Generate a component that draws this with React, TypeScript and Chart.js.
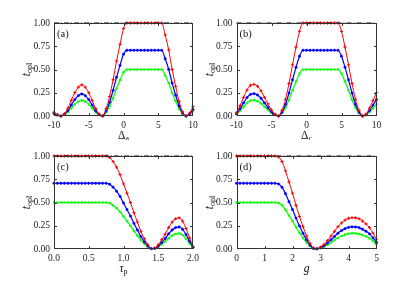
import React, { useEffect, useRef } from "react";
import { Chart, registerables } from "chart.js";
Chart.register(...registerables);

const SERIF = "'Liberation Serif', 'Times New Roman', serif";

// ---------- data ----------
const xA = [-10,-9.5,-9,-8.5,-8,-7.5,-7,-6.5,-6,-5.5,-5,-4.5,-4,-3.5,-3,-2.5,-2,-1.5,-1,-0.5,0,0.5,1,1.5,2,2.5,3,3.5,4,4.5,5,5.5,6,6.5,7,7.5,8,8.5,9,9.5,10];
const redA = [0.04,0.015,0,0.025,0.085,0.17,0.25,0.31,0.335,0.31,0.25,0.165,0.08,0.02,0,0.08,0.21,0.39,0.59,0.77,0.94,1,1,1,1,1,1,1,1,1,1,1,0.87,0.71,0.5,0.32,0.155,0.045,0,0.03,0.1];
const blueA = [0.028,0.011,0,0.018,0.06,0.12,0.177,0.219,0.237,0.219,0.177,0.117,0.057,0.014,0,0.057,0.148,0.276,0.417,0.544,0.665,0.707,0.707,0.707,0.707,0.707,0.707,0.707,0.707,0.707,0.707,0.707,0.615,0.502,0.354,0.226,0.11,0.032,0,0.021,0.071];
const greenA = [0.02,0.008,0,0.013,0.043,0.085,0.125,0.155,0.168,0.155,0.125,0.083,0.04,0.01,0,0.04,0.105,0.195,0.295,0.385,0.47,0.5,0.5,0.5,0.5,0.5,0.5,0.5,0.5,0.5,0.5,0.5,0.435,0.355,0.25,0.16,0.078,0.023,0,0.015,0.05];

const xB = xA;
const redB = [0.035,0.11,0.2,0.28,0.33,0.34,0.32,0.27,0.2,0.13,0.065,0.02,0,0.06,0.18,0.35,0.55,0.74,0.91,1,1,1,1,1,1,1,1,1,1,1,0.91,0.74,0.55,0.35,0.18,0.06,0,0.02,0.085,0.165,0.25];
const blueB = [0.025,0.078,0.141,0.198,0.233,0.24,0.226,0.191,0.141,0.092,0.046,0.014,0,0.042,0.127,0.247,0.389,0.523,0.643,0.707,0.707,0.707,0.707,0.707,0.707,0.707,0.707,0.707,0.707,0.707,0.643,0.523,0.389,0.247,0.127,0.042,0,0.014,0.06,0.117,0.177];
const greenB = [0.018,0.055,0.1,0.14,0.165,0.17,0.16,0.135,0.1,0.065,0.033,0.01,0,0.03,0.09,0.175,0.275,0.37,0.455,0.5,0.5,0.5,0.5,0.5,0.5,0.5,0.5,0.5,0.5,0.5,0.455,0.37,0.275,0.175,0.09,0.03,0,0.01,0.043,0.083,0.125];

const xC = [0,0.05,0.1,0.15,0.2,0.25,0.3,0.35,0.4,0.45,0.5,0.55,0.6,0.65,0.7,0.75,0.8,0.85,0.9,0.95,1,1.05,1.1,1.15,1.2,1.25,1.3,1.35,1.4,1.45,1.5,1.55,1.6,1.65,1.7,1.75,1.8,1.85,1.9,1.95,2];
const redC = [1,1,1,1,1,1,1,1,1,1,1,1,1,1,1,1,0.985,0.94,0.88,0.8,0.7,0.6,0.5,0.39,0.29,0.19,0.11,0.045,0.005,0.01,0.045,0.1,0.16,0.23,0.29,0.325,0.335,0.3,0.22,0.12,0.025];
const blueC = [0.707,0.707,0.707,0.707,0.707,0.707,0.707,0.707,0.707,0.707,0.707,0.707,0.707,0.707,0.707,0.707,0.696,0.665,0.622,0.566,0.495,0.424,0.354,0.276,0.205,0.134,0.078,0.032,0.004,0.007,0.032,0.071,0.113,0.163,0.205,0.23,0.237,0.212,0.156,0.085,0.018];
const greenC = [0.5,0.5,0.5,0.5,0.5,0.5,0.5,0.5,0.5,0.5,0.5,0.5,0.5,0.5,0.5,0.5,0.493,0.47,0.44,0.4,0.35,0.3,0.25,0.195,0.145,0.095,0.055,0.023,0.003,0.005,0.023,0.05,0.08,0.115,0.145,0.163,0.168,0.15,0.11,0.06,0.013];

const xD = [0,0.125,0.25,0.375,0.5,0.625,0.75,0.875,1,1.125,1.25,1.375,1.5,1.625,1.75,1.875,2,2.125,2.25,2.375,2.5,2.625,2.75,2.875,3,3.125,3.25,3.375,3.5,3.625,3.75,3.875,4,4.125,4.25,4.375,4.5,4.625,4.75,4.875,5];
const redD = [1,1,1,1,1,1,1,1,1,1,1,1,0.99,0.94,0.84,0.72,0.6,0.47,0.35,0.24,0.14,0.06,0.01,0.003,0.02,0.05,0.09,0.14,0.19,0.24,0.28,0.31,0.33,0.336,0.335,0.325,0.3,0.27,0.23,0.17,0.1];
const blueD = [0.707,0.707,0.707,0.707,0.707,0.707,0.707,0.707,0.707,0.707,0.707,0.707,0.7,0.665,0.594,0.509,0.424,0.332,0.247,0.17,0.099,0.042,0.007,0.002,0.014,0.035,0.064,0.099,0.134,0.17,0.198,0.219,0.233,0.238,0.237,0.23,0.212,0.191,0.163,0.12,0.071];
const greenD = [0.5,0.5,0.5,0.5,0.5,0.5,0.5,0.5,0.5,0.5,0.5,0.5,0.495,0.47,0.42,0.36,0.3,0.235,0.175,0.12,0.07,0.03,0.005,0.002,0.01,0.025,0.045,0.07,0.095,0.12,0.14,0.155,0.165,0.168,0.168,0.163,0.15,0.135,0.115,0.085,0.05];

const yTicks = [0, 0.25, 0.5, 0.75, 1];
const yTitleMain = "t";
const yTitleSub = "opl";

type PanelDef = {
  id: string;
  box: [number, number, number, number];
  area: [number, number, number, number];
  xs: number[]; red: number[]; blue: number[]; green: number[];
  xMin: number; xMax: number; xStep: number; xDec: number;
  tag: string; xMain: string; xSub: string; xItalic: boolean;
};

const panels: PanelDef[] = [
  { id: "a", box: [0, 0, 205, 140], area: [54, 23, 193, 116], xs: xA, red: redA, blue: blueA, green: greenA, xMin: -10, xMax: 10, xStep: 5, xDec: 0, tag: "(a)", xMain: "\u0394", xSub: "a", xItalic: false },
  { id: "b", box: [205, 0, 210, 140], area: [236.5, 23, 376.5, 116], xs: xB, red: redB, blue: blueB, green: greenB, xMin: -10, xMax: 10, xStep: 5, xDec: 0, tag: "(b)", xMain: "\u0394", xSub: "c", xItalic: false },
  { id: "c", box: [0, 140, 205, 141], area: [54, 156, 193, 249], xs: xC, red: redC, blue: blueC, green: greenC, xMin: 0, xMax: 2, xStep: 0.5, xDec: 1, tag: "(c)", xMain: "\u03c4", xSub: "p", xItalic: true },
  { id: "d", box: [205, 140, 210, 141], area: [236.5, 156, 376.5, 249], xs: xD, red: redD, blue: blueD, green: greenD, xMin: 0, xMax: 5, xStep: 1, xDec: 0, tag: "(d)", xMain: "g", xSub: "", xItalic: true },
];

function makeFramePlugin(p: PanelDef) {
  return {
    id: "frame_" + p.id,
    afterDraw(chart: any) {
      const { ctx, chartArea } = chart;
      const { left, right, top, bottom } = chartArea;
      const xs = chart.scales.x;
      const ys = chart.scales.y;
      ctx.save();
      ctx.strokeStyle = "#333";
      ctx.lineWidth = 1;
      const L = Math.round(left) + 0.5, R = Math.round(right) - 0.5;
      const T = Math.round(top) + 0.5, B = Math.round(bottom) - 0.5;
      ctx.strokeRect(L, T, R - L, B - T);
      const tl = 2.5;
      ctx.beginPath();
      xs.ticks.forEach((t: any) => {
        const px = Math.round(xs.getPixelForValue(t.value)) + 0.5;
        if (px <= L + 1 || px >= R - 1) return;
        ctx.moveTo(px, B); ctx.lineTo(px, B - tl);
        ctx.moveTo(px, T); ctx.lineTo(px, T + tl);
      });
      ys.ticks.forEach((t: any) => {
        const py = Math.round(ys.getPixelForValue(t.value)) + 0.5;
        if (py <= T + 1 || py >= B - 1) return;
        ctx.moveTo(L, py); ctx.lineTo(L + tl, py);
        ctx.moveTo(R, py); ctx.lineTo(R - tl, py);
      });
      ctx.stroke();

      ctx.fillStyle = "#111";
      ctx.font = `10.5px ${SERIF}`;
      ctx.textAlign = "left";
      ctx.textBaseline = "middle";
      ctx.fillText(p.tag, left + 3, top + 11);

      const cx = (left + right) / 2;
      const ty = bottom + 20;
      const mainFont = `${p.xItalic ? "italic " : ""}11.5px ${SERIF}`;
      const subFont = `8px ${SERIF}`;
      ctx.font = mainFont;
      const w1 = ctx.measureText(p.xMain).width;
      ctx.font = subFont;
      const w2 = p.xSub ? ctx.measureText(p.xSub).width : 0;
      const x0 = cx - (w1 + w2) / 2;
      ctx.font = mainFont;
      ctx.fillText(p.xMain, x0, ty);
      if (p.xSub) {
        ctx.font = subFont;
        ctx.fillText(p.xSub, x0 + w1, ty + 3);
      }

      const cy = (top + bottom) / 2;
      ctx.translate(left - 27, cy);
      ctx.rotate(-Math.PI / 2);
      const yMain = `italic 11.5px ${SERIF}`;
      ctx.font = yMain;
      const v1 = ctx.measureText(yTitleMain).width;
      ctx.font = subFont;
      const v2 = ctx.measureText(yTitleSub).width;
      const s0 = -(v1 + v2) / 2;
      ctx.font = yMain;
      ctx.fillText(yTitleMain, s0, 0);
      ctx.font = subFont;
      ctx.fillText(yTitleSub, s0 + v1, 3);
      ctx.restore();
    },
  };
}

function PanelChart({ p }: { p: PanelDef }) {
  const ref = useRef<HTMLCanvasElement | null>(null);
  useEffect(() => {
    if (!ref.current) return;
    const [bl, bt, bw, bh] = p.box;
    const [ax0, ay0, ax1, ay1] = p.area;
    const pts = (ys: number[]) => p.xs.map((x, i) => ({ x, y: ys[i] }));
    const tickFont = { family: SERIF, size: 9.5 };
    const chart = new Chart(ref.current, {
      type: "line",
      data: {
        datasets: [
          {
            data: [{ x: p.xMin, y: 1 }, { x: p.xMax, y: 1 }],
            borderColor: "#000", borderWidth: 1, borderDash: [5, 2, 1, 2],
            pointRadius: 0, clip: false as any,
          },
          {
            data: pts(p.red), borderColor: "#ff0000", backgroundColor: "#ff0000",
            borderWidth: 1, pointStyle: "cross", pointRadius: 1.6, pointBorderWidth: 1,
            cubicInterpolationMode: "monotone", clip: false as any,
          },
          {
            data: pts(p.blue), borderColor: "#0000ff", backgroundColor: "#0000ff",
            borderWidth: 1.2, pointStyle: "circle", pointRadius: 1.2, pointBorderWidth: 0.5,
            cubicInterpolationMode: "monotone", clip: false as any,
          },
          {
            data: pts(p.green), borderColor: "#00ff00", backgroundColor: "#00ff00",
            borderWidth: 1.2, pointStyle: "rect", pointRadius: 1.2, pointBorderWidth: 0.5,
            cubicInterpolationMode: "monotone", clip: false as any,
          },
        ],
      },
      options: {
        animation: false,
        responsive: false,
        maintainAspectRatio: false,
        devicePixelRatio: 1,
        events: [],
        layout: { padding: { left: 0, top: ay0 - bt, right: bl + bw - ax1, bottom: 0 } },
        plugins: { legend: { display: false }, tooltip: { enabled: false } },
        scales: {
          x: {
            type: "linear", min: p.xMin, max: p.xMax,
            grid: { display: false, drawTicks: false, tickLength: 0 },
            border: { display: false },
            ticks: {
              stepSize: p.xStep, font: tickFont, color: "#222", padding: 4,
              maxRotation: 0, autoSkip: false,
              callback: (v: any) => Number(v).toFixed(p.xDec),
            },
            afterFit: (s: any) => { s.height = bt + bh - ay1; },
          },
          y: {
            type: "linear", min: 0, max: 1,
            grid: { display: false, drawTicks: false, tickLength: 0 },
            border: { display: false },
            afterBuildTicks: (s: any) => { s.ticks = yTicks.map((v) => ({ value: v })); },
            ticks: {
              font: tickFont, color: "#222", padding: 4,
              callback: (v: any) => Number(v).toFixed(2),
            },
            afterFit: (s: any) => { s.width = ax0 - bl; },
          },
        },
      } as any,
      plugins: [makeFramePlugin(p)],
    });
    return () => chart.destroy();
  }, [p]);
  const [bl, bt, bw, bh] = p.box;
  return (
    <canvas
      ref={ref}
      width={bw}
      height={bh}
      style={{ position: "absolute", left: bl, top: bt, width: bw, height: bh }}
    />
  );
}

export default function App() {
  return (
    <div style={{ position: "absolute", left: 0, top: 0, width: 415, height: 281, background: "#fff", overflow: "hidden" }}>
      {panels.map((p) => (
        <PanelChart key={p.id} p={p} />
      ))}
    </div>
  );
}
